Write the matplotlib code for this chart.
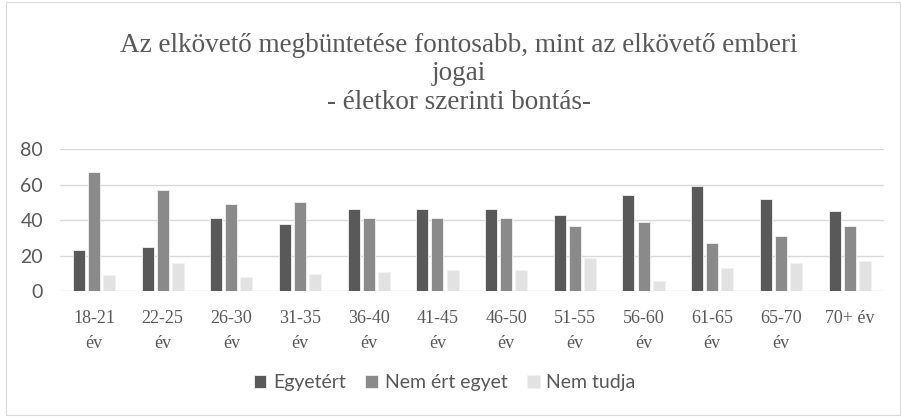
import matplotlib.pyplot as plt
import numpy as np
from matplotlib.patches import Rectangle

categories = ["18-21\név", "22-25\név", "26-30\név", "31-35\név", "36-40\név",
              "41-45\név", "46-50\név", "51-55\név", "56-60\név", "61-65\név",
              "65-70\név", "70+ év"]
egyetert = [23, 25, 41, 38, 46, 46, 46, 43, 54, 59, 52, 45]
nem_ert_egyet = [67, 57, 49, 50, 41, 41, 41, 37, 39, 27, 31, 37]
nem_tudja = [9, 16, 8, 10, 11, 12, 12, 19, 6, 13, 16, 17]
series_names = ["Egyetért", "Nem ért egyet", "Nem tudja"]
colors = ["#595959", "#8a8a8a", "#e2e2e2"]

fig = plt.figure(figsize=(9.03, 4.17), dpi=100)
ax = fig.add_axes([0.066, 0.301, 0.913, 0.342])

# outer chart frame
fig.patches.append(Rectangle((0.007, 0.004), 0.99, 0.992, transform=fig.transFigure,
                             fill=False, edgecolor="#d9d9d9", lw=0.8))

x = np.arange(len(categories))
w = 0.175
off = 0.22
for i, (vals, name) in enumerate(zip([egyetert, nem_ert_egyet, nem_tudja], series_names)):
    ax.bar(x + (i - 1) * off, vals, w, color=colors[i], edgecolor="#f2f2f2",
           linewidth=0.6, label=name, zorder=3)

ax.set_xlim(-0.5, len(categories) - 0.5)
ax.set_ylim(0, 80)
ax.set_yticks([0, 20, 40, 60, 80])
ax.yaxis.grid(True, color="#d9d9d9", lw=1, zorder=0)
for s in ax.spines.values():
    s.set_visible(False)
ax.tick_params(axis="both", length=0)
ax.tick_params(axis="y", labelsize=14, labelcolor="#595959", pad=12)
ax.set_xticks(x)
ax.set_xticklabels(categories, fontfamily="Liberation Serif", fontsize=13,
                   color="#595959", linespacing=1.65)
ax.tick_params(axis="x", pad=13)
for lab in ax.get_yticklabels():
    lab.set_fontfamily("Lato")

fig.text(0.508, 0.725,
         "Az elkövető megbüntetése fontosabb, mint az elkövető emberi\njogai\n- életkor szerinti bontás-",
         ha="center", va="bottom", fontfamily="Liberation Serif", fontsize=19.5,
         color="#595959", linespacing=1.17)

ax.legend(loc="center", bbox_to_anchor=(0.467, -0.64), ncol=3, frameon=False,
          prop={"family": "Lato", "size": 14},
          handlelength=0.65, handleheight=0.65, handletextpad=0.35, columnspacing=1.0,
          labelcolor="#595959")

fig.savefig("out.png", dpi=100)
